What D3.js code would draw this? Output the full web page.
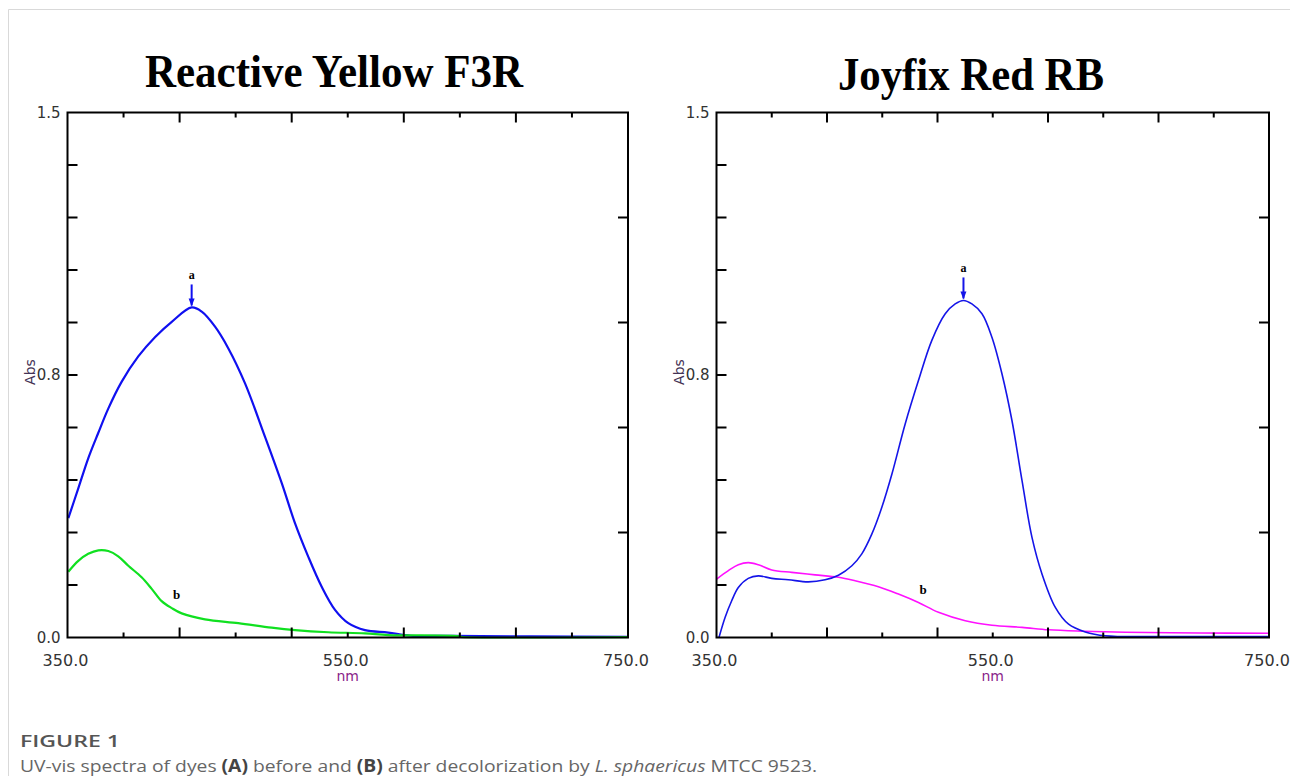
<!DOCTYPE html>
<html><head><meta charset="utf-8">
<script src="https://cdn.jsdelivr.net/npm/d3@7"></script>
<style>
html,body{margin:0;padding:0;background:#fff;}
svg{display:block;}
</style></head>
<body>
<svg id="chart" width="1290" height="776"></svg>
<script>
// ---------- DATA ----------
const panelTitles = ["Reactive Yellow F3R", "Joyfix Red RB"];
const xTickValues = [350, 390, 430, 470, 510, 550, 590, 630, 670, 710, 750];
const xLongTicks = [430, 510, 590, 670];
const xLabelValues = [350, 550, 750];
const xLabelText = ["350.0", "550.0", "750.0"];
const yTickValues = [0, 0.15, 0.3, 0.45, 0.6, 0.75, 0.9, 1.05, 1.2, 1.35, 1.5];
const yRightTicks = [0.3, 0.6, 0.9, 1.2];
const yLabelValues = [0, 0.75, 1.5];
const yLabelText = ["0.0", "0.8", "1.5"];

// Panel A: Reactive Yellow F3R
const yellowBeforeNm  = [350.6,357.7,364.8,372,379.1,388.7,400.5,412.4,424.4,438.6,445.8,455.3,464.8,476.7,490.9,502.9,512.4,521.8,531.4,540.9,550.4,562.3,578.9,595,624.4,680,750];
const yellowBeforeAbs = [0.341,0.426,0.512,0.585,0.654,0.731,0.803,0.858,0.902,0.943,0.931,0.888,0.826,0.726,0.574,0.441,0.326,0.231,0.145,0.079,0.041,0.021,0.014,0.005,0.005,0.003,0.002];
const yellowAfterNm   = [350.6,357.7,364.8,372,379.1,386.2,393.4,402.9,410.1,417.2,424.4,431.5,448.1,471.9,495.7,512.4,536.1,562.3,579,628,632,750];
const yellowAfterAbs  = [0.188,0.219,0.239,0.249,0.247,0.232,0.205,0.172,0.139,0.104,0.084,0.069,0.052,0.041,0.028,0.021,0.015,0.012,0.007,0.004,0.001,0.001];

// Panel B: Joyfix Red RB
const redBeforeNm  = [351.8,356.2,361,365.8,373,380.3,390,402,416.5,428.6,438.3,448,455.2,462.5,469.7,477,486.6,496.2,505.9,515.6,522.8,528.8,534.9,542.2,549.4,556.7,563.9,571.2,578.4,585.7,595.3,604.9,617,631.5,680,750];
const redBeforeAbs = [0,0.057,0.105,0.143,0.169,0.176,0.169,0.165,0.159,0.165,0.178,0.205,0.239,0.296,0.372,0.467,0.61,0.734,0.849,0.925,0.953,0.963,0.953,0.925,0.858,0.753,0.62,0.448,0.286,0.181,0.086,0.038,0.016,0.005,0.003,0.003];
const redAfterNm   = [350.1,358.6,365.8,373,380.3,390,404.5,421.4,438.3,450.4,467.2,481.7,496.2,510.7,530.1,549.4,571.2,590.4,614.6,646,700,750];
const redAfterAbs  = [0.167,0.191,0.208,0.214,0.208,0.193,0.186,0.179,0.172,0.162,0.145,0.124,0.1,0.072,0.048,0.035,0.029,0.022,0.018,0.015,0.013,0.012];

// label anchors (data units)
const peakLabelNm = [438.6, 528.8];
const peakLabelAbs = [0.943, 0.963];
const bLabelNm = [427.9, 499.6];
const bLabelAbs = [0.124, 0.136];

// ---------- DRAW ----------
const svg = d3.select("#chart");

// card border
svg.append("line").attr("x1",8.5).attr("x2",1290).attr("y1",9.5).attr("y2",9.5).attr("stroke","#d9d9d9").attr("stroke-width",1);
svg.append("line").attr("x1",8.5).attr("x2",8.5).attr("y1",9.5).attr("y2",776).attr("stroke","#d9d9d9").attr("stroke-width",1);

const panels = [
  {x0:67.5, x1:628, titleX:334, titleY:87, titleW:378, series:[
     {nm:yellowBeforeNm, abs:yellowBeforeAbs, color:"#1010f0", w:2.2},
     {nm:yellowAfterNm, abs:yellowAfterAbs, color:"#10e020", w:2.2}]},
  {x0:716.5, x1:1269, titleX:971, titleY:90, titleW:266, series:[
     {nm:redAfterNm, abs:redAfterAbs, color:"#ff10ff", w:1.6},
     {nm:redBeforeNm, abs:redBeforeAbs, color:"#1515e8", w:1.6}]}
];
const yTop = 112.5, yBot = 637.5;

panels.forEach((p, i) => {
  const x = d3.scaleLinear().domain([350, 750]).range([p.x0, p.x1]);
  const y = d3.scaleLinear().domain([0, 1.5]).range([yBot, yTop]);
  const g = svg.append("g");

  // title
  g.append("text").attr("x", p.titleX).attr("y", p.titleY)
    .attr("text-anchor","middle")
    .attr("font-family","'Liberation Serif','Times New Roman',serif")
    .attr("font-weight","bold").attr("font-size",46)
    .attr("textLength", p.titleW).attr("lengthAdjust","spacingAndGlyphs")
    .attr("fill","#000").text(panelTitles[i]);

  // curves
  const clipId = "clip"+i;
  svg.append("clipPath").attr("id",clipId).append("rect")
    .attr("x",p.x0).attr("y",yTop).attr("width",p.x1-p.x0).attr("height",yBot-yTop+1);
  p.series.forEach(s => {
    const pts = s.nm.map((v,k)=>[v, s.abs[k]]);
    g.append("path").datum(pts)
      .attr("clip-path","url(#"+clipId+")")
      .attr("fill","none").attr("stroke", s.color).attr("stroke-width", s.w)
      .attr("stroke-linejoin","round")
      .attr("d", d3.line().x(d=>x(d[0])).y(d=>y(d[1])).curve(d3.curveCatmullRom.alpha(0.5)));
  });

  // frame
  g.append("rect").attr("x",p.x0).attr("y",yTop).attr("width",p.x1-p.x0).attr("height",yBot-yTop)
    .attr("fill","none").attr("stroke","#000").attr("stroke-width",2);

  // bottom & top ticks (inward)
  const inner = xTickValues.slice(1,-1);
  inner.forEach(v => {
    const len = xLongTicks.includes(v) ? 10 : 5;
    g.append("line").attr("x1",x(v)).attr("x2",x(v)).attr("y1",yBot).attr("y2",yBot-len).attr("stroke","#000").attr("stroke-width",2);
    g.append("line").attr("x1",x(v)).attr("x2",x(v)).attr("y1",yTop).attr("y2",yTop+len).attr("stroke","#000").attr("stroke-width",2);
  });
  // left ticks
  yTickValues.slice(1,-1).forEach(v => {
    g.append("line").attr("x1",p.x0).attr("x2",p.x0+10).attr("y1",y(v)).attr("y2",y(v)).attr("stroke","#000").attr("stroke-width",2);
  });
  // right ticks
  yRightTicks.forEach(v => {
    g.append("line").attr("x1",p.x1).attr("x2",p.x1-10).attr("y1",y(v)).attr("y2",y(v)).attr("stroke","#000").attr("stroke-width",2);
  });

  // tick labels
  const lblFont = "'DejaVu Sans',sans-serif";
  yLabelValues.forEach((v,k) => {
    g.append("text").attr("x",p.x0-7).attr("y",y(v)).attr("dy","0.36em")
      .attr("text-anchor","end").attr("font-family",lblFont).attr("font-size",15)
      .attr("fill","#333").text(yLabelText[k]);
  });
  xLabelValues.forEach((v,k) => {
    g.append("text").attr("x",x(v)-2).attr("y",yBot+28)
      .attr("text-anchor","middle").attr("font-family",lblFont).attr("font-size",16)
      .attr("fill","#333").text(xLabelText[k]);
  });
  // axis titles
  g.append("text").attr("x",x(550)).attr("y",yBot+43)
    .attr("text-anchor","middle").attr("font-family",lblFont).attr("font-size",14)
    .attr("fill","#8a1f8a").text("nm");
  g.append("text").attr("transform","translate("+(p.x0-33)+","+(y(0.75)-3)+") rotate(-90)")
    .attr("text-anchor","middle").attr("font-family",lblFont).attr("font-size",14)
    .attr("fill","#443355").text("Abs");

  // peak label a with arrow
  const px = x(peakLabelNm[i]), py = y(peakLabelAbs[i]);
  const blue = i===0 ? "#1010f0" : "#1515e8";
  g.append("line").attr("x1",px).attr("x2",px).attr("y1",py-23).attr("y2",py-2)
    .attr("stroke",blue).attr("stroke-width",2);
  g.append("path").attr("d","M"+(px-3)+","+(py-9)+"L"+(px+3)+","+(py-9)+"L"+px+","+(py-1)+"Z").attr("fill",blue);
  g.append("text").attr("x",px).attr("y",py-28).attr("text-anchor","middle")
    .attr("font-family","'Liberation Serif',serif").attr("font-weight","bold").attr("font-size",12)
    .attr("fill","#000").text("a");
  // b label
  g.append("text").attr("x",x(bLabelNm[i])).attr("y",y(bLabelAbs[i])).attr("dy","0.35em")
    .attr("text-anchor","middle")
    .attr("font-family","'Liberation Serif',serif").attr("font-weight","bold").attr("font-size",13)
    .attr("fill","#000").text("b");
});

// caption
svg.append("text").attr("x",20).attr("y",747)
  .attr("font-family","'Open Sans',sans-serif").attr("font-weight",600).attr("font-size",17)
  .attr("textLength",100).attr("lengthAdjust","spacingAndGlyphs")
  .attr("fill","#555").text("FIGURE 1");
const cap = svg.append("text").attr("x",20).attr("y",772)
  .attr("font-family","'Open Sans',sans-serif").attr("font-size",17).attr("fill","#666")
  .attr("textLength",797).attr("lengthAdjust","spacingAndGlyphs");
cap.append("tspan").text("UV-vis spectra of dyes ");
cap.append("tspan").attr("font-weight","bold").attr("fill","#444").text("(A)");
cap.append("tspan").text(" before and ");
cap.append("tspan").attr("font-weight","bold").attr("fill","#444").text("(B)");
cap.append("tspan").text(" after decolorization by ");
cap.append("tspan").attr("font-style","italic").text("L. sphaericus");
cap.append("tspan").text(" MTCC 9523.");
</script>
</body></html>
